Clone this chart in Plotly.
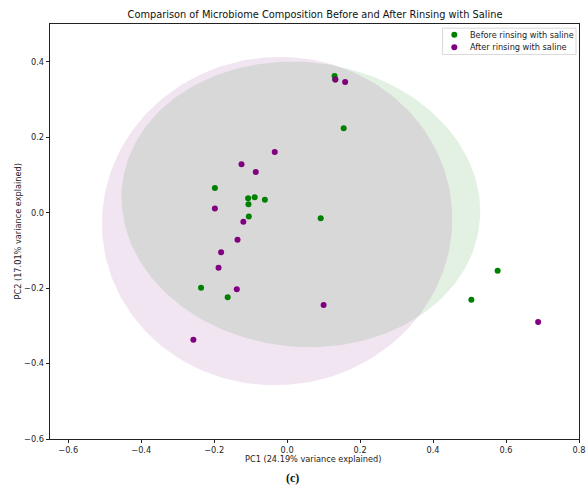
import numpy as np
import plotly.graph_objects as go

# PCA scores
before_pc1 = [0.130, 0.132, 0.155, -0.198, -0.107, -0.089, -0.061, -0.106, -0.105, 0.092, -0.236, -0.163, 0.577, 0.505]
before_pc2 = [0.362, 0.353, 0.224, 0.065, 0.038, 0.041, 0.034, 0.022, -0.010, -0.015, -0.199, -0.224, -0.154, -0.231]
after_pc1 = [0.132, 0.159, -0.034, -0.125, -0.086, -0.198, -0.120, -0.136, -0.181, -0.188, -0.138, 0.100, -0.257, 0.688]
after_pc2 = [0.353, 0.346, 0.161, 0.128, 0.108, 0.011, -0.024, -0.072, -0.105, -0.146, -0.203, -0.245, -0.337, -0.290]

group_names = ["Before rinsing with saline", "After rinsing with saline"]
group_colors = ["green", "purple"]
x_ticks = [-0.6, -0.4, -0.2, 0.0, 0.2, 0.4, 0.6, 0.8]
y_ticks = [-0.6, -0.4, -0.2, 0.0, 0.2, 0.4]

N_STD = 1.98

# plot-area geometry in pixels (for legend placement in paper coords)
W, H = 587, 486
L, R, T, B = 50, 579, 23.5, 439.3


def px_to_paper(px, py):
    return (px - L) / (R - L), (B - py) / (B - T)


def cov_ellipse(x, y, n_std=N_STD, num=240):
    x = np.asarray(x)
    y = np.asarray(y)
    cov = np.cov(x, y)
    vals, vecs = np.linalg.eigh(cov)
    t = np.linspace(0, 2 * np.pi, num)
    circ = np.vstack([np.cos(t), np.sin(t)])
    pts = vecs @ (n_std * np.sqrt(vals)[:, None] * circ)
    return pts[0] + x.mean(), pts[1] + y.mean()


fig = go.Figure()

ex, ey = cov_ellipse(before_pc1, before_pc2)
fig.add_trace(go.Scatter(x=ex, y=ey, mode="lines", fill="toself",
                         fillcolor="rgba(0,128,0,0.11)", line=dict(width=0),
                         showlegend=False, hoverinfo="skip"))
ex, ey = cov_ellipse(after_pc1, after_pc2)
fig.add_trace(go.Scatter(x=ex, y=ey, mode="lines", fill="toself",
                         fillcolor="rgba(128,0,128,0.1)", line=dict(width=0),
                         showlegend=False, hoverinfo="skip"))

fig.add_trace(go.Scatter(x=before_pc1, y=before_pc2, mode="markers", name=group_names[0],
                         marker=dict(color=group_colors[0], size=6), showlegend=False))
fig.add_trace(go.Scatter(x=after_pc1, y=after_pc2, mode="markers", name=group_names[1],
                         marker=dict(color=group_colors[1], size=6), showlegend=False))

FS = 8.2
axis_common = dict(showgrid=False, zeroline=False, showline=True, mirror=True,
                   automargin=False,
                   linecolor="#222", linewidth=0.8, ticks="outside", ticklen=3.5,
                   tickwidth=0.8, tickcolor="#222",
                   tickfont=dict(family="DejaVu Sans", size=FS, color="#222"))

# legend drawn by hand (matplotlib-like compact legend)
shapes = []
annotations = []
bx0, by0 = px_to_paper(442.5, 27.7)
bx1, by1 = px_to_paper(576.0, 54.0)
shapes.append(dict(type="rect", xref="paper", yref="paper", x0=bx0, x1=bx1, y0=by1, y1=by0,
                   line=dict(color="#cfcfcf", width=0.8), fillcolor="rgba(255,255,255,0.8)",
                   layer="above"))
for i, (name, col) in enumerate(zip(group_names, group_colors)):
    py = 34.3 + i * 12.4
    mx, my = px_to_paper(454.3, py)
    shapes.append(dict(type="circle", xref="paper", yref="paper", xsizemode="pixel",
                       ysizemode="pixel", xanchor=mx, yanchor=my, x0=-3, x1=3, y0=-3, y1=3,
                       fillcolor=col, line=dict(width=0), layer="above"))
    tx, ty = px_to_paper(468.0, py)
    annotations.append(dict(text=name, xref="paper", yref="paper", x=tx, y=ty,
                            xanchor="left", yanchor="middle", showarrow=False,
                            font=dict(family="DejaVu Sans", size=FS, color="#222")))

annotations += [
    dict(text="PC1 (24.19% variance explained)", xref="paper", yref="paper",
         x=px_to_paper(313, 0)[0], y=px_to_paper(0, 459)[1], xanchor="center", yanchor="middle",
         showarrow=False, font=dict(family="DejaVu Sans", size=FS, color="#222")),
    dict(text="PC2 (17.01% variance explained)", xref="paper", yref="paper",
         x=px_to_paper(17, 0)[0], y=0.5, xanchor="center", yanchor="middle", showarrow=False,
         textangle=-90, font=dict(family="DejaVu Sans", size=FS, color="#222")),
    dict(text="<b>(c)</b>", xref="paper", yref="paper",
         x=px_to_paper(292, 0)[0], y=px_to_paper(0, 478)[1], xanchor="center", yanchor="middle",
         showarrow=False, font=dict(family="Liberation Serif", size=12, color="#111")),
]

fig.update_layout(
    width=W, height=H,
    margin=dict(l=L, r=W - R, t=T, b=H - B, autoexpand=False),
    paper_bgcolor="white", plot_bgcolor="white",
    font=dict(family="DejaVu Sans", color="#222"),
    title=dict(text="Comparison of Microbiome Composition Before and After Rinsing with Saline",
               x=px_to_paper(315, 0)[0], xref="paper", xanchor="center",
               y=1 - 15 / H, yref="container", yanchor="middle",
               font=dict(family="DejaVu Sans", size=9.8, color="#111")),
    xaxis=dict(range=[-0.65, 0.8], tickvals=x_ticks, tickformat=".1f", **axis_common),
    yaxis=dict(range=[-0.6, 0.5], tickvals=y_ticks, tickformat=".1f", **axis_common),
    showlegend=False,
    shapes=shapes,
    annotations=annotations,
)

fig.write_html("out.html", post_script="document.body.style.margin='0';",
               config={"displayModeBar": False})
